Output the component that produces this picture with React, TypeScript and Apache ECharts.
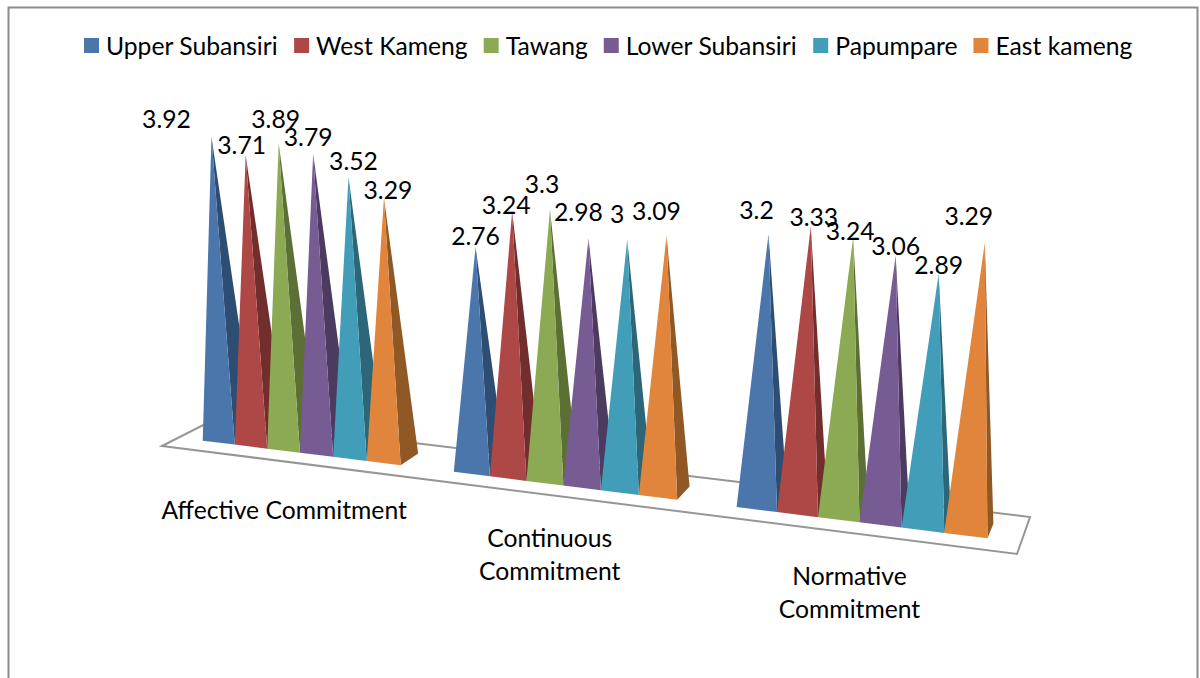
import React, { useEffect, useRef } from "react";
import * as echarts from "echarts";

const categories = ["Affective Commitment", "Continuous\nCommitment", "Normative\nCommitment"];
const seriesNames = ["Upper Subansiri", "West Kameng", "Tawang", "Lower Subansiri", "Papumpare", "East kameng"];
const upperSubansiri = [3.92, 2.76, 3.2];
const westKameng = [3.71, 3.24, 3.33];
const tawang = [3.89, 3.3, 3.24];
const lowerSubansiri = [3.79, 2.98, 3.06];
const papumpare = [3.52, 3, 2.89];
const eastKameng = [3.29, 3.09, 3.29];
const seriesValues = [upperSubansiri, westKameng, tawang, lowerSubansiri, papumpare, eastKameng];

const frontColors = ["#4A76AC", "#AD4846", "#8CA954", "#775B93", "#429DB8", "#E1853C"];
const sideColors = ["#2D4D73", "#722E2D", "#5C7035", "#4C3A60", "#2B6779", "#8F5825"];

// Hand-placed data label offsets from each apex, per series then per category.
const labelNudges: number[][][] = [
  [[-45, -18], [0, -12], [-12, -25]],
  [[-4, -11], [-6, -7], [3, -10]],
  [[-3, -25], [-8, -26], [-3, -7]],
  [[-5, -17], [-10, -27], [0, -10]],
  [[5, -17], [-10, -26], [0, -9]],
  [[4, -8], [-10, -25], [-16, -27]],
];

const FONT = "Lato, 'Noto Sans', sans-serif";
const FONT_SIZE = 24.7;

// Floor of the 3D plot in screen space: front-left, front-right, back-right, back-left.
const floor = [[162, 446], [1017, 554], [1030, 517], [215, 419]];

// Projective map from the unit floor square (u along the row, v into the depth).
function makeFloorMap(q: number[][]) {
  const [[x0, y0], [x1, y1], [x2, y2], [x3, y3]] = q;
  const dx1 = x1 - x2, dx2 = x3 - x2, sx = x0 - x1 + x2 - x3;
  const dy1 = y1 - y2, dy2 = y3 - y2, sy = y0 - y1 + y2 - y3;
  const den = dx1 * dy2 - dx2 * dy1;
  const g = (sx * dy2 - dx2 * sy) / den;
  const h = (dx1 * sy - sx * dy1) / den;
  const a = x1 - x0 + g * x1, b = x3 - x0 + h * x3;
  const d = y1 - y0 + g * y1, e = y3 - y0 + h * y3;
  return (u: number, v: number) => {
    const w = g * u + h * v + 1;
    return { x: (a * u + b * v + x0) / w, y: (d * u + e * v + y0) / w, scale: 1 / w };
  };
}
const floorAt = makeFloorMap(floor);

// Pyramid footprint on the floor square, per category.
const barWidths = [0.0432, 0.0445, 0.0453];
const groupShifts = [-0.004, -0.0077, -0.004];
const BASE_FRONT = 0.3;
const BASE_BACK = 0.7;
// Verticals splay apart with height around this screen column.
const SPLAY_CENTER = 610;
const SPLAY = 0.000154;

const GRID = { left: 100, top: 100, width: 1000, height: 390 };

function pyramidItem(seriesIndex: number) {
  return (_params: any, api: any) => {
    const cat = api.value(0);
    const value = api.value(1);
    const top = api.coord([cat, value]);
    const zero = api.coord([cat, 0]);
    const groupU = (top[0] - GRID.left) / GRID.width + groupShifts[cat];
    const u0 = groupU + (seriesIndex - 3) * barWidths[cat];
    const u1 = u0 + barWidths[cat];
    const fl = floorAt(u0, BASE_FRONT);
    const fr = floorAt(u1, BASE_FRONT);
    const br = floorAt(u1, BASE_BACK);
    const mid = floorAt((u0 + u1) / 2, (BASE_FRONT + BASE_BACK) / 2);
    const rise = (zero[1] - top[1]) * mid.scale;
    const apex = [mid.x + (mid.x - SPLAY_CENTER) * SPLAY * rise, mid.y - rise];
    const nudge = labelNudges[seriesIndex][cat];
    return {
      type: "group",
      children: [
        {
          type: "polygon",
          shape: { points: [[fr.x, fr.y], [br.x, br.y], apex] },
          style: { fill: sideColors[seriesIndex] },
        },
        {
          type: "polygon",
          shape: { points: [[fl.x, fl.y], [fr.x, fr.y], apex] },
          style: { fill: frontColors[seriesIndex] },
        },
        {
          type: "text",
          z2: 10,
          style: {
            x: apex[0] + nudge[0],
            y: apex[1] + nudge[1],
            text: String(value),
            fill: "#000",
            font: `${FONT_SIZE}px ${FONT}`,
            align: "center",
            verticalAlign: "middle",
          },
        },
      ],
    };
  };
}

// Axis captions hang below the front edge of the floor.
const captionDrop = [49, 42, 43];
const captionShift = [-4, -9, -7];
const LINE_HEIGHT = 33;

function captionGraphics() {
  return categories.map((label, i) => {
    const p = floorAt((i + 0.5) / categories.length, 0);
    return {
      type: "text",
      x: p.x + captionShift[i],
      y: p.y + captionDrop[i] - LINE_HEIGHT / 2 - 1,
      style: {
        text: label,
        fill: "#000",
        font: `${FONT_SIZE}px ${FONT}`,
        lineHeight: LINE_HEIGHT,
        align: "center",
        verticalAlign: "top",
      },
    };
  });
}

export default function App() {
  const ref = useRef<HTMLDivElement>(null);
  useEffect(() => {
    const chart = echarts.init(ref.current!, null, { renderer: "svg" });
    chart.setOption({
      animation: false,
      backgroundColor: "#fff",
      grid: GRID,
      xAxis: { type: "category", data: categories, show: false },
      yAxis: { type: "value", min: 0, max: 5, show: false },
      legend: {
        data: seriesNames,
        left: 79,
        top: 28,
        itemWidth: 15,
        itemHeight: 15,
        itemGap: 16,
        icon: "rect",
        textStyle: { fontFamily: FONT, fontSize: FONT_SIZE, color: "#000", padding: [0, 0, 0, 2] },
      },
      graphic: [
        {
          type: "polyline",
          shape: { points: [[8.5, 680], [8.5, 7.5], [1197.5, 7.5], [1197.5, 680]] },
          style: { stroke: "#8C8C8C", lineWidth: 2, fill: "none" },
        },
        {
          type: "polygon",
          shape: { points: floor },
          style: { stroke: "#969696", lineWidth: 2, fill: "none" },
        },
        ...captionGraphics(),
      ],
      series: seriesNames.map((name, s) => ({
        type: "custom",
        name,
        itemStyle: { color: frontColors[s] },
        renderItem: pyramidItem(s),
        encode: { x: 0, y: 1 },
        data: seriesValues[s].map((v, c) => [c, v]),
      })),
    });
    return () => chart.dispose();
  }, []);
  return <div ref={ref} style={{ position: "absolute", left: 0, top: 0, width: 1200, height: 678 }} />;
}
